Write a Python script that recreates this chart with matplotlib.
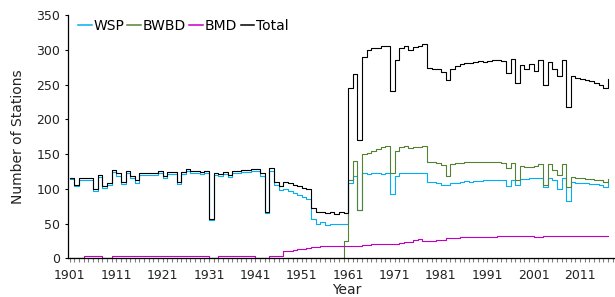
import matplotlib.pyplot as plt
from matplotlib.ticker import MultipleLocator
import numpy as np

# annual values, 1901-2017 (value holds for the whole year)
years = np.arange(1901, 2018)

wsp = [
    114, 104, 113, 113, 113, 97, 117, 101, 106, 124,    # 1901-1910
    119, 107, 122, 115, 109, 120, 120, 120, 120, 123,   # 1911-1920
    115, 121, 121, 107, 121, 125, 122, 122, 121, 122,   # 1921-1930
    55, 120, 119, 121, 117, 123, 122, 124, 124, 125,    # 1931-1940
    125, 119, 65, 126, 105, 98, 100, 97, 94, 91,        # 1941-1950
    88, 85, 56, 50, 52, 48, 50, 49, 50, 50,             # 1951-1960
    108, 118, 70, 122, 121, 122, 122, 121, 122, 92,     # 1961-1970
    118, 122, 123, 122, 123, 123, 123, 110, 110, 108,   # 1971-1980
    106, 106, 108, 109, 110, 111, 110, 111, 111, 112,   # 1981-1990
    112, 113, 113, 112, 104, 113, 106, 114, 114, 115,   # 1991-2000
    115, 116, 103, 115, 112, 100, 116, 82, 110, 109,    # 2001-2010
    108, 108, 107, 107, 106, 102, 110,                  # 2011-2017
]

bwbd = [0] * 59 + [
    25,                                                 # 1960
    113, 140, 70, 150, 152, 155, 157, 160, 162, 123,    # 1961-1970
    155, 160, 161, 158, 160, 160, 161, 139, 138, 137,   # 1971-1980
    134, 118, 136, 137, 137, 138, 138, 138, 138, 138,   # 1981-1990
    138, 138, 138, 137, 130, 137, 112, 133, 132, 132,   # 1991-2000
    133, 136, 105, 136, 127, 120, 136, 103, 117, 116,   # 2001-2010
    115, 114, 114, 113, 112, 110, 114,                  # 2011-2017
]

bmd = [
    1, 1, 1, 3, 3, 3, 3, 1, 1, 3,                       # 1901-1910
    3, 3, 3, 3, 3, 3, 3, 3, 3, 3,                       # 1911-1920
    3, 3, 3, 3, 3, 3, 3, 3, 3, 3,                       # 1921-1930
    1, 1, 3, 3, 3, 3, 3, 3, 3, 3,                       # 1931-1940
    1, 1, 1, 3, 3, 3, 10, 11, 12, 13,                   # 1941-1950
    14, 15, 16, 16, 17, 17, 17, 17, 17, 17,             # 1951-1960
    17, 18, 18, 19, 19, 20, 20, 20, 21, 21,             # 1961-1970
    21, 22, 23, 24, 26, 28, 25, 25, 25, 26,             # 1971-1980
    26, 29, 29, 29, 30, 30, 30, 30, 31, 31,             # 1981-1990
    31, 31, 32, 32, 32, 32, 32, 32, 32, 32,             # 1991-2000
    31, 31, 32, 32, 32, 32, 32, 32, 32, 32,             # 2001-2010
    32, 32, 32, 32, 32, 32, 32,                         # 2011-2017
]

total = [
    116, 106, 115, 115, 115, 100, 120, 104, 108, 127,   # 1901-1910
    122, 110, 125, 118, 112, 123, 123, 123, 123, 126,   # 1911-1920
    118, 124, 124, 110, 124, 128, 125, 125, 124, 125,   # 1921-1930
    57, 123, 121, 124, 120, 126, 125, 127, 127, 128,    # 1931-1940
    128, 122, 67, 130, 110, 104, 110, 108, 106, 104,    # 1941-1950
    101, 99, 72, 66, 67, 65, 66, 64, 66, 65,            # 1951-1960
    245, 265, 170, 290, 300, 302, 303, 305, 306, 240,   # 1961-1970
    285, 302, 305, 300, 304, 306, 308, 274, 273, 272,   # 1971-1980
    268, 256, 272, 277, 279, 281, 281, 283, 284, 283,   # 1981-1990
    284, 285, 285, 284, 266, 286, 252, 278, 272, 280,   # 1991-2000
    270, 285, 250, 283, 272, 262, 285, 218, 262, 260,   # 2001-2010
    258, 256, 255, 252, 250, 245, 258,                  # 2011-2017
]

series = [
    ("WSP", wsp, "#00B0F0"),
    ("BWBD", bwbd, "#548235"),
    ("BMD", bmd, "#C000C0"),
    ("Total", total, "#000000"),
]

fig = plt.figure(figsize=(6.15, 2.97), dpi=100)
ax = fig.add_axes([68 / 615, 38.7 / 297, 546 / 615, 243.3 / 297])

for name, vals, col in series:
    ax.plot(years, vals, color=col, lw=0.8, drawstyle="steps-post", label=name)

ax.set_xlim(1900.6, 2018.3)
ax.set_ylim(0, 350)
ax.set_xticks(np.arange(1901, 2018, 10))
ax.xaxis.set_minor_locator(MultipleLocator(1))
ax.set_yticks(np.arange(0, 351, 50))

for s in ["top", "right"]:
    ax.spines[s].set_visible(False)
ax.spines["left"].set_linewidth(0.9)
ax.spines["bottom"].set_linewidth(0.9)

ax.tick_params(axis="x", which="both", length=3, width=0.8, color="#808080",
               pad=5, labelsize=9, labelcolor="#222222")
ax.tick_params(axis="y", length=2.5, width=0.8, pad=3, labelsize=9,
               labelcolor="#222222")

ax.set_xlabel("Year", fontsize=10, color="#222222")
ax.set_ylabel("Number of Stations", fontsize=10, color="#222222")
ax.xaxis.set_label_coords(0.511, -0.10)
ax.yaxis.set_label_coords(-0.079, 0.5)

leg = ax.legend(ncol=4, loc="upper left", bbox_to_anchor=(0.018, 0.985), frameon=False,
                fontsize=10, handlelength=1.0, handletextpad=0.1, columnspacing=0.25,
                borderpad=0, borderaxespad=0)
for h in leg.get_lines():
    h.set_linewidth(1.1)

fig.savefig("out.png", dpi=100)
